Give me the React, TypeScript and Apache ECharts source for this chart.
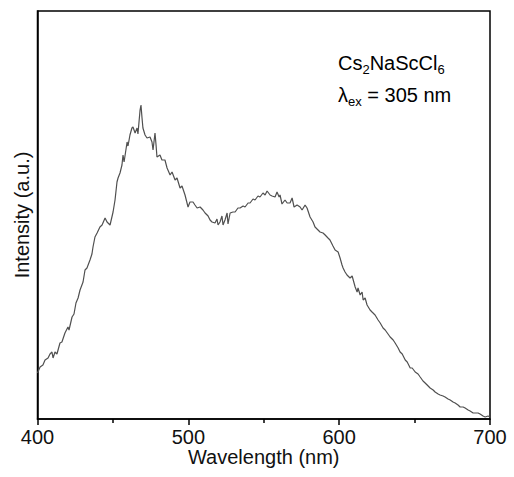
import React, { useEffect, useRef } from "react";
import * as echarts from "echarts";

const wavelengths = [
  400, 401.7, 403.6, 405, 407, 408.3, 409.6, 410.3, 411.6, 412.9, 414.9, 416.2, 418.2, 420.2, 420.9,
  422.9, 424.2, 425.5, 426.9, 428.2, 430.2, 431.5, 432.8, 434.8, 436.1, 436.8, 438.1, 439.5, 441.4,
  442.8, 444.8, 446.1, 448.1, 450.1, 451.4, 452.7, 453.4, 454.7, 456, 456.7, 457.4, 459.4, 460,
  461.3, 462.6, 463.3, 464.7, 466, 466.6, 468, 468.6, 469.3, 469.9, 471.3, 472.6, 474.6, 475.9,
  476.6, 477.9, 478.6, 479.2, 481.2, 482.5, 484.5, 485.9, 487.9, 489.2, 491.2, 492.5, 494.5, 495.8,
  497.8, 499.8, 501.1, 503.1, 504.4, 505.8, 507.8, 509.7, 511.1, 513.1, 514.4, 515.7, 517.7, 519,
  519.7, 521, 522.3, 523, 524.3, 525.7, 526.3, 527.7, 529.6, 531, 532.9, 534.3, 536.3, 537.6, 539.6,
  540.9, 542.9, 544.2, 546.2, 547.5, 549.5, 550.9, 552.2, 554.2, 555.5, 557.5, 558.8, 560.2, 560.8,
  562.1, 564.1, 565.5, 567.4, 568.8, 570.1, 572.1, 574.1, 575.4, 577.4, 578.7, 580.7, 582.7, 584,
  586, 587.3, 589.3, 590.7, 592.6, 593.9, 595.9, 597.3, 599.3, 600.6, 601.9, 602.6, 603.9, 605.2,
  607.2, 608.6, 610.6, 611.9, 612.5, 613.9, 615.2, 615.9, 617.2, 618.5, 620.5, 621.8, 623.8, 625.8,
  627.2, 629.1, 630.5, 632.4, 633.8, 635.8, 637.1, 639.1, 640.4, 641.8, 643.8, 645.1, 647.1, 648.4,
  650.4, 652.3, 653.7, 655.6, 657, 659, 660.3, 662.3, 663.6, 665.6, 666.9, 668.9, 670.2, 672.2,
  673.6, 675.5, 676.9, 678.8, 680.2, 682.2, 683.5, 685.5, 686.8, 688.8, 690.1, 692.1, 693.4, 695.4,
  696.8, 698.7, 700,
];

const intensity = [
  46, 52, 54, 59, 61, 65, 67, 61, 67, 65, 76, 77, 86, 92, 89,
  102, 105, 116, 121, 129, 137, 149, 151, 159, 165, 172, 182, 186, 192,
  194, 201, 197, 194, 207, 219, 237, 241, 246, 254, 264, 257, 277, 273,
  284, 291, 292, 286, 291, 285, 309, 314, 301, 291, 284, 281, 282, 277,
  269, 286, 274, 262, 264, 259, 259, 251, 244, 247, 239, 241, 231, 233,
  224, 212, 217, 217, 214, 211, 212, 209, 206, 203, 199, 197, 196, 200,
  194, 197, 203, 194, 199, 206, 195, 206, 207, 207, 211, 211, 213, 212, 216,
  216, 220, 219, 223, 222, 226, 224, 228, 224, 223, 222, 227, 222, 224,
  215, 219, 216, 216, 221, 212, 214, 212, 209, 214, 211, 202, 197, 192,
  189, 187, 186, 184, 181, 179, 173, 169, 167, 161, 154, 151, 147, 144,
  141, 143, 132, 127, 131, 124, 127, 119, 121, 114, 109, 107, 104, 99,
  96, 91, 89, 85, 82, 79, 76, 71, 67, 65, 59, 57, 51, 51,
  47, 45, 42, 38, 36, 33, 31, 29, 27, 25, 24, 23, 22, 20,
  19, 17, 16, 14, 12, 12, 11, 9, 8, 6, 6, 6, 5, 3,
  2, 3, 2,
];

const xTicks = [400, 500, 600, 700];
const formulaLabel = "{n|Cs}{s|2}{n|NaScCl}{s|6}";
const excitationLabel = "{n|λ}{s|ex}{n| = 305 nm}";

export default function App() {
  const ref = useRef<HTMLDivElement>(null);
  useEffect(() => {
    if (!ref.current) return;
    const chart = echarts.init(ref.current, undefined, { renderer: "svg" });
    const font = "Liberation Sans, Arial, sans-serif";
    const richStyles = {
      n: { fontSize: 20, fontFamily: font, color: "#111", lineHeight: 24 },
      s: { fontSize: 13, fontFamily: font, color: "#111", lineHeight: 13, padding: [13, 0, 0, 0] },
    };
    chart.setOption({
      animation: false,
      backgroundColor: "#fff",
      grid: {
        left: 37.5,
        right: 24,
        top: 11,
        bottom: 58,
        show: true,
        borderColor: "#000",
        borderWidth: 1.5,
        containLabel: false,
      },
      xAxis: {
        type: "value",
        min: xTicks[0],
        max: xTicks[xTicks.length - 1],
        interval: 100,
        name: "Wavelength (nm)",
        nameLocation: "middle",
        nameGap: 28,
        nameMoveOverlap: false,
        nameTextStyle: { fontSize: 20, fontFamily: font, color: "#111" },
        axisLine: { show: true, lineStyle: { color: "#000", width: 1.5 } },
        axisTick: { show: true, inside: false, length: 6, lineStyle: { color: "#000", width: 1.5 } },
        minorTick: { show: true, splitNumber: 2, length: 4, lineStyle: { color: "#000", width: 1.5 } },
        axisLabel: { fontSize: 20, fontFamily: font, color: "#111", margin: 8 },
        splitLine: { show: false },
      },
      yAxis: {
        type: "value",
        min: 0,
        max: 408,
        name: "Intensity (a.u.)",
        nameLocation: "middle",
        nameGap: 6,
        nameMoveOverlap: false,
        nameTextStyle: { fontSize: 20, fontFamily: font, color: "#111" },
        axisLine: { show: true, lineStyle: { color: "#000", width: 1.5 } },
        axisTick: { show: false },
        axisLabel: { show: false },
        splitLine: { show: false },
      },
      graphic: [
        {
          type: "text",
          left: 338,
          top: 50,
          style: { text: formulaLabel, rich: richStyles },
        },
        {
          type: "text",
          left: 338,
          top: 82,
          style: { text: excitationLabel, rich: richStyles },
        },
      ],
      series: [
        {
          type: "line",
          data: wavelengths.map((w, i) => [w, intensity[i]]),
          showSymbol: false,
          symbol: "none",
          lineStyle: { color: "#505050", width: 1.2 },
          clip: true,
        },
      ],
    });
    return () => chart.dispose();
  }, []);
  return (
    <div
      ref={ref}
      style={{ position: "fixed", left: 0, top: 0, width: 514, height: 477, background: "#fff" }}
    />
  );
}
